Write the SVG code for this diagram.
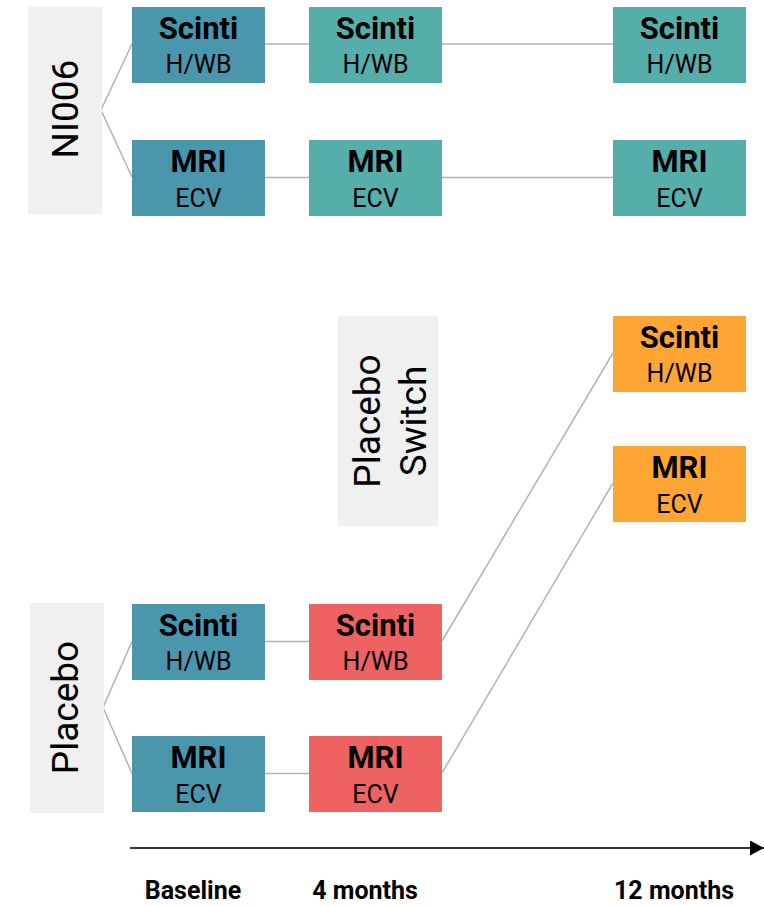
<svg xmlns="http://www.w3.org/2000/svg" width="764" height="906" viewBox="0 0 764 906">
<style>
.lab{fill:#f0f0f0}
.lt{font-family:Roboto,"Liberation Sans",sans-serif;font-size:37px;fill:#000;text-anchor:middle}
.blue{fill:#4a96ad}
.teal{fill:#56aeaa}
.orange{fill:#ffa533}
.red{fill:#ef6262}
.t1{font-family:Roboto,"Liberation Sans",sans-serif;font-weight:bold;font-size:31px;fill:#000;text-anchor:middle}
.t2{font-family:Roboto,"Liberation Sans",sans-serif;font-size:25px;fill:#000;text-anchor:middle}
.ax{font-family:Roboto,"Liberation Sans",sans-serif;font-weight:bold;font-size:25px;fill:#000;text-anchor:middle}
.c{stroke:#b3b3b3;stroke-width:1.5;fill:none}
</style>
<defs>
<marker id="arr" markerWidth="14" markerHeight="15" refX="14" refY="7.5" orient="auto" markerUnits="userSpaceOnUse" viewBox="0 0 14 15">
<path d="M0,0 L14,7.5 L0,15 z" fill="#000"/>
</marker>
</defs>
<g id="connectors">
<polyline class="c" points="132,44 101,110 132,177"/>
<line class="c" x1="265" y1="44" x2="309" y2="44"/>
<line class="c" x1="442" y1="44" x2="613" y2="44"/>
<line class="c" x1="265" y1="177.5" x2="309" y2="177.5"/>
<line class="c" x1="442" y1="177.5" x2="613" y2="177.5"/>
<polyline class="c" points="132,641.5 103,707.5 132,773.5"/>
<line class="c" x1="265" y1="641.5" x2="309" y2="641.5"/>
<line class="c" x1="265" y1="773.5" x2="309" y2="773.5"/>
<line class="c" x1="442" y1="641" x2="613" y2="353"/>
<line class="c" x1="442" y1="773" x2="613" y2="483"/>
<line x1="130" y1="848" x2="764" y2="848" stroke="#333" stroke-width="2" marker-end="url(#arr)"/>
</g>
<g id="label-ni006">
<rect class="lab" x="28" y="7" width="74" height="207"/>
<text class="lt" transform="translate(78,109) rotate(-90)">NI006</text>
</g>
<g id="label-placebo-switch">
<rect class="lab" x="338" y="316" width="100" height="210"/>
<text class="lt" transform="translate(380,421) rotate(-90)">Placebo</text>
<text class="lt" transform="translate(426,421) rotate(-90)">Switch</text>
</g>
<g id="label-placebo">
<rect class="lab" x="30" y="603" width="74" height="210"/>
<text class="lt" transform="translate(78,707.5) rotate(-90)">Placebo</text>
</g>
<g id="n-ni-scinti-0"><rect class="blue" x="132" y="7" width="133" height="76"/><text class="t1" x="198.5" y="39">Scinti</text><text class="t2" x="198.5" y="73">H/WB</text></g>
<g id="n-ni-mri-0"><rect class="blue" x="132" y="140" width="133" height="76"/><text class="t1" x="198.5" y="172">MRI</text><text class="t2" x="198.5" y="207">ECV</text></g>
<g id="n-ni-scinti-4"><rect class="teal" x="309" y="7" width="133" height="76"/><text class="t1" x="375.5" y="39">Scinti</text><text class="t2" x="375.5" y="73">H/WB</text></g>
<g id="n-ni-mri-4"><rect class="teal" x="309" y="140" width="133" height="76"/><text class="t1" x="375.5" y="172">MRI</text><text class="t2" x="375.5" y="207">ECV</text></g>
<g id="n-ni-scinti-12"><rect class="teal" x="613" y="7" width="133" height="76"/><text class="t1" x="679.5" y="39">Scinti</text><text class="t2" x="679.5" y="73">H/WB</text></g>
<g id="n-ni-mri-12"><rect class="teal" x="613" y="140" width="133" height="76"/><text class="t1" x="679.5" y="172">MRI</text><text class="t2" x="679.5" y="207">ECV</text></g>
<g id="n-sw-scinti-12"><rect class="orange" x="613" y="316" width="133" height="76"/><text class="t1" x="679.5" y="348">Scinti</text><text class="t2" x="679.5" y="382">H/WB</text></g>
<g id="n-sw-mri-12"><rect class="orange" x="613" y="446" width="133" height="76"/><text class="t1" x="679.5" y="478">MRI</text><text class="t2" x="679.5" y="513">ECV</text></g>
<g id="n-pl-scinti-0"><rect class="blue" x="132" y="604" width="133" height="76"/><text class="t1" x="198.5" y="636">Scinti</text><text class="t2" x="198.5" y="670">H/WB</text></g>
<g id="n-pl-mri-0"><rect class="blue" x="132" y="736" width="133" height="76"/><text class="t1" x="198.5" y="768">MRI</text><text class="t2" x="198.5" y="803">ECV</text></g>
<g id="n-pl-scinti-4"><rect class="red" x="309" y="604" width="133" height="76"/><text class="t1" x="375.5" y="636">Scinti</text><text class="t2" x="375.5" y="670">H/WB</text></g>
<g id="n-pl-mri-4"><rect class="red" x="309" y="736" width="133" height="76"/><text class="t1" x="375.5" y="768">MRI</text><text class="t2" x="375.5" y="803">ECV</text></g>
<g id="axis-labels">
<text class="ax" x="193" y="899">Baseline</text>
<text class="ax" x="365" y="899">4 months</text>
<text class="ax" x="674" y="899">12 months</text>
</g>
</svg>
